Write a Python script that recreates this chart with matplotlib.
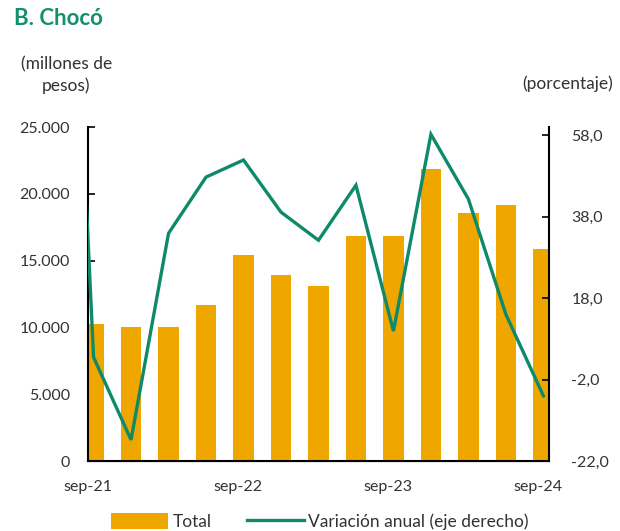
import numpy as np
import matplotlib
matplotlib.use("Agg")
import matplotlib.pyplot as plt
from matplotlib.ticker import FuncFormatter

plt.rcParams['font.family'] = ['Lato', 'DejaVu Sans']

# trimestres, sep-21 a sep-24
periodos = ['sep-21', 'dic-21', 'mar-22', 'jun-22', 'sep-22', 'dic-22', 'mar-23',
            'jun-23', 'sep-23', 'dic-23', 'mar-24', 'jun-24', 'sep-24']
total = [10250, 10050, 10050, 11700, 15400, 13900, 13100,
         16850, 16850, 21850, 18600, 19150, 15900]
# variacion anual (%), el primer valor es jun-21 (queda fuera del eje)
var_previa = 200.0
variacion = [3.5, -16.8, 33.9, 47.7, 51.9, 39.1, 32.2,
             45.7, 9.9, 58.2, 42.3, 14.0, -6.0]
etiquetas_x = ['sep-21', 'sep-22', 'sep-23', 'sep-24']

naranja = '#EFA700'
verde = '#0E8A6A'
gris = '#333333'

fig = plt.figure(figsize=(6.2, 5.31), dpi=100)
ax = fig.add_axes([0.142, 0.1318, 0.7435, 0.629])
ax2 = ax.twinx()

x = np.arange(len(periodos))
ax.bar(x, total, width=0.54, color=naranja, label='Total', zorder=2)

x_lin = np.concatenate([[-1], x])
y_lin = np.concatenate([[var_previa], variacion])
ax2.plot(x_lin, y_lin, color=verde, lw=2.4, solid_joinstyle='miter',
         label='Variación anual (eje derecho)')

xmin, xmax = -0.147, 12.15
ax.set_xlim(xmin, xmax)
ax.set_ylim(0, 25000)
ax.set_yticks(np.arange(0, 25001, 5000))
ax.yaxis.set_major_formatter(FuncFormatter(lambda v, p: f'{int(v):,}'.replace(',', '.')))
ax2.set_ylim(-22, 60)
ax2.set_yticks([-22, -2, 18, 38, 58])
ax2.yaxis.set_major_formatter(FuncFormatter(lambda v, p: f'{v:.1f}'.replace('.', ',')))

ax.set_xticks([xmin + 4 * k for k in range(4)])
ax.set_xticklabels(etiquetas_x)

for a in (ax, ax2):
    a.spines['top'].set_visible(False)
    a.tick_params(direction='in', length=5, width=1.2, colors='black',
                  labelcolor=gris, labelsize=11.5)
ax.spines['right'].set_visible(False)
ax2.spines['left'].set_visible(False)
for s in ('left', 'bottom'):
    ax.spines[s].set_linewidth(1.5)
ax2.spines['right'].set_linewidth(1.5)
ax.tick_params(axis='x', pad=14)
ax.tick_params(axis='y', pad=13)
ax2.tick_params(axis='y', pad=16)

fig.text(0.022, 0.965, 'B. Chocó', color='#12906E', fontsize=16,
         fontweight='bold', va='center', ha='left')
fig.text(0.107, 0.858, '(millones de\npesos)', color=gris, fontsize=12.5,
         ha='center', va='center', linespacing=1.35)
fig.text(0.988, 0.842, '(porcentaje)', color=gris, fontsize=12.5,
         ha='right', va='center')

h1, l1 = ax.get_legend_handles_labels()
h2, l2 = ax2.get_legend_handles_labels()
fig.legend(h1 + h2, l1 + l2, loc='center', bbox_to_anchor=(0.516, 0.018),
           ncol=2, frameon=False, fontsize=12.5, handlelength=3.3,
           handleheight=1.0, columnspacing=2.0, handletextpad=0.25,
           labelcolor=gris)

fig.savefig('out.png', dpi=100)
